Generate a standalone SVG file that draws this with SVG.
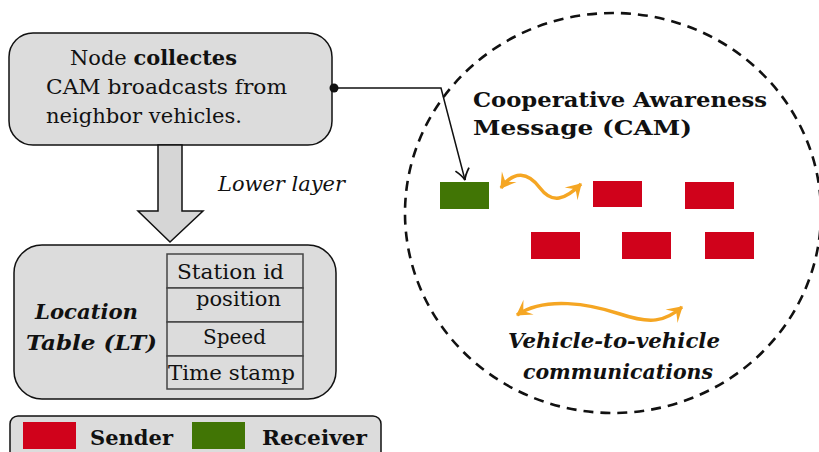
<svg xmlns="http://www.w3.org/2000/svg" width="819" height="452" viewBox="0 0 819 452">
<defs>
<style>
.t{font-family:"DejaVu Serif",serif;font-size:20px;fill:#111}
.box{fill:#dcdcdc;stroke:#111;stroke-width:1.5}
.b{font-weight:bold}
.i{font-style:italic}
.cell{fill:#dcdcdc;stroke:#444;stroke-width:1.5}
.red{fill:#d0021b}
.green{fill:#417505}
.wave{fill:none;stroke:#f5a623;stroke-width:3.5}
.conn{fill:none;stroke:#111;stroke-width:1.5}
</style>
<marker id="oa" viewBox="-16 -10 18 20" refX="0" refY="0" markerWidth="18" markerHeight="20" markerUnits="userSpaceOnUse" orient="auto-start-reverse">
<path d="M1,0 L-14,-9 Q-8,-1 -8,0 Q-8,1 -14,9 Z" fill="#f5a623"/>
</marker>
<marker id="ba" viewBox="-14 -9 16 18" refX="0" refY="0" markerWidth="16" markerHeight="18" markerUnits="userSpaceOnUse" orient="auto">
<path d="M-11,-7 Q-4,-1 0,0 Q-4,1 -11,7" fill="none" stroke="#111" stroke-width="1.8"/>
</marker>
</defs>

<g id="cam-range">
<ellipse cx="613" cy="213" rx="208" ry="200" fill="none" stroke="#111" stroke-width="2.6" stroke-dasharray="10,7"/>
<text class="t b" x="473" y="107" textLength="294" lengthAdjust="spacingAndGlyphs">Cooperative  Awareness</text>
<text class="t b" x="473" y="135" textLength="219" lengthAdjust="spacingAndGlyphs">Message   (CAM)</text>
</g>

<g id="node-collect">
<rect class="box" x="9" y="33" width="323" height="112" rx="24"/>
<text class="t" x="70" y="65" textLength="167" lengthAdjust="spacingAndGlyphs">Node <tspan class="b">collectes</tspan></text>
<text class="t" x="46" y="94" textLength="241" lengthAdjust="spacingAndGlyphs">CAM broadcasts from</text>
<text class="t" x="46" y="123" textLength="196" lengthAdjust="spacingAndGlyphs">neighbor  vehicles.</text>
</g>

<g id="lower-layer-arrow">
<path d="M158,145 H182 V211 H203 L170,242 L138,211 H158 Z" fill="#d6d6d6" stroke="#111" stroke-width="1.5"/>
<text class="t i" x="218" y="191" textLength="127" lengthAdjust="spacingAndGlyphs">Lower layer</text>
</g>

<g id="location-table">
<rect class="box" x="14" y="245" width="322" height="154" rx="28"/>
<text class="t b i" x="35" y="319" textLength="103" lengthAdjust="spacingAndGlyphs">Location</text>
<text class="t b i" x="26" y="350" textLength="131" lengthAdjust="spacingAndGlyphs">Table  (LT)</text>
<rect class="cell" x="167" y="254" width="136" height="34"/>
<rect class="cell" x="167" y="288" width="136" height="34"/>
<rect class="cell" x="167" y="322" width="136" height="34"/>
<rect class="cell" x="167" y="356" width="136" height="33"/>
<text class="t" x="177" y="279" textLength="107" lengthAdjust="spacingAndGlyphs">Station id</text>
<text class="t" x="196" y="306" textLength="85" lengthAdjust="spacingAndGlyphs">position</text>
<text class="t" x="203" y="344" textLength="63" lengthAdjust="spacingAndGlyphs">Speed</text>
<text class="t" x="168" y="380" textLength="127" lengthAdjust="spacingAndGlyphs">Time stamp</text>
</g>

<g id="legend">
<rect class="box" x="10" y="416" width="371" height="44" rx="8"/>
<rect class="red" x="23" y="422" width="53" height="27"/>
<text class="t b" x="90" y="445" textLength="83" lengthAdjust="spacingAndGlyphs">Sender</text>
<rect class="green" x="192" y="422" width="53" height="27"/>
<text class="t b" x="262" y="445" textLength="105" lengthAdjust="spacingAndGlyphs">Receiver</text>
</g>

<g id="receiver">
<rect class="green" x="440" y="182" width="49" height="27"/>
</g>
<g id="sender-1"><rect class="red" x="593" y="181" width="49" height="26"/></g>
<g id="sender-2"><rect class="red" x="685" y="182" width="49" height="27"/></g>
<g id="sender-3"><rect class="red" x="531" y="232" width="49" height="27"/></g>
<g id="sender-4"><rect class="red" x="622" y="232" width="49" height="27"/></g>
<g id="sender-5"><rect class="red" x="705" y="232" width="49" height="27"/></g>

<g id="v2v-label">
<text class="t b i" x="508" y="348" textLength="212" lengthAdjust="spacingAndGlyphs">Vehicle-to-vehicle</text>
<text class="t b i" x="523" y="379" textLength="190" lengthAdjust="spacingAndGlyphs">communications</text>
</g>

<g id="connectors">
<circle cx="334" cy="88" r="4.5" fill="#111"/>
<path class="conn" d="M334,88 H441 L465,180" marker-end="url(#ba)"/>
<path class="wave" d="M501,188 C514,170 528,172 540,188 S565,200 581,184" marker-start="url(#oa)" marker-end="url(#oa)"/>
<path class="wave" d="M517,315 C545,296 590,304 620,314 S665,322 682,307" marker-start="url(#oa)" marker-end="url(#oa)"/>
</g>
</svg>
